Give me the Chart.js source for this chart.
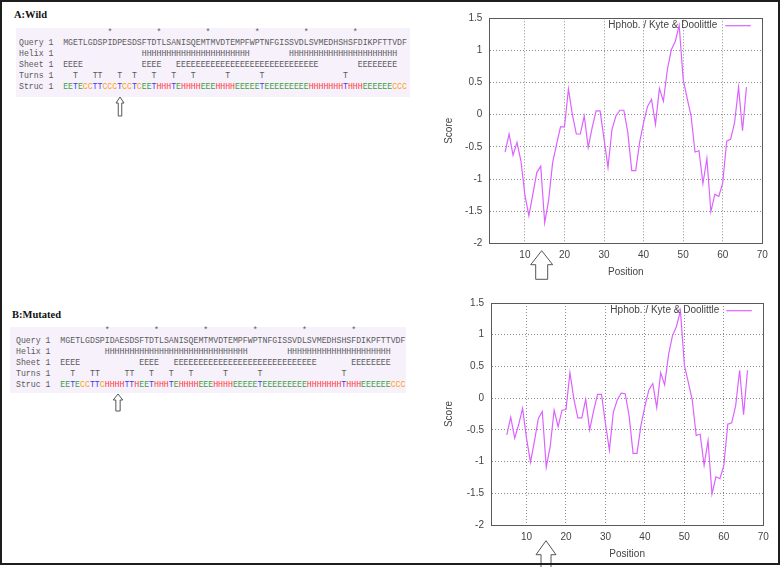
<!DOCTYPE html>
<html>
<head>
<meta charset="utf-8">
<title>Hydrophobicity: wild vs mutated</title>
<script src="https://cdn.jsdelivr.net/npm/chart.js@4.4.1/dist/chart.umd.min.js"></script>
<style>
  html, body { margin: 0; padding: 0; background: #fff; }
  #fig { position: relative; width: 782px; height: 567px; overflow: hidden; background: #fff; }
  #frame { position: absolute; left: 0; top: 0; width: 776px; height: 561px; border: 2px solid #1e1e1e; z-index: 5; pointer-events: none; }
  .panel-title { position: absolute; font: bold 10.5px "Liberation Serif", serif; color: #111; line-height: 12px; white-space: nowrap; }
  .seqbox { position: absolute; background: #f6f1fa; }
  .row { position: absolute; font-family: "Liberation Mono", monospace; font-size: 9px; line-height: 11px; color: #5a5a5a; white-space: pre; transform-origin: 0 50%; }
  .E { color: #3f9f3f; } .H { color: #ff3a3a; } .T { color: #3a3aff; } .C { color: #ffa31a; }
  canvas { position: absolute; }
  #arrows { position: absolute; left: 0; top: 0; z-index: 4; }
</style>
</head>
<body>
<div id="fig">
  <div class="panel-title" style="left:14px;top:9px">A:Wild</div>
  <div class="seqbox" style="left:16px;top:28px;width:394px;height:69px"></div>
  <div id="seqA"></div>
  <div class="panel-title" style="left:12px;top:309px">B:Mutated</div>
  <div class="seqbox" style="left:10px;top:327px;width:396px;height:66px"></div>
  <div id="seqB"></div>
  <canvas id="wildChart" width="350" height="290" style="left:430px;top:0"></canvas>
  <canvas id="mutChart" width="350" height="277" style="left:430px;top:290px"></canvas>
  <svg id="arrows" width="782" height="567"></svg>
  <div id="frame"></div>
</div>
<script>
// residue positions (window centres) and Kyte & Doolittle scores
const positions = [5, 6, 7, 8, 9, 10, 11, 12, 13, 14, 15, 16, 17, 18, 19, 20, 21, 22, 23, 24,
  25, 26, 27, 28, 29, 30, 31, 32, 33, 34, 35, 36, 37, 38, 39, 40, 41, 42, 43, 44, 45, 46,
  47, 48, 49, 50, 51, 52, 53, 54, 55, 56, 57, 58, 59, 60, 61, 62, 63, 64, 65, 66];
const wildScore = [-0.58, -0.30, -0.63, -0.43, -0.72, -1.25, -1.57, -1.24, -0.90, -0.80,
  -1.68, -1.33, -0.75, -0.46, -0.19, -0.19, 0.40, 0.00, -0.30, -0.30, -0.02, -0.51, -0.20,
  0.06, 0.06, -0.38, -0.82, -0.23, -0.02, 0.07, 0.07, -0.27, -0.87, -0.87, -0.43, -0.12,
  0.13, 0.24, -0.15, 0.41, 0.21, 0.70, 1.01, 1.14, 1.39, 0.55, 0.26, -0.02, -0.58, -0.56,
  -1.07, -0.68, -1.51, -1.24, -1.27, -1.06, -0.41, -0.38, -0.12, 0.43, -0.25, 0.43];
const mutatedScore = [-0.58, -0.30, -0.63, -0.42, -0.16, -0.63, -1.01, -0.68, -0.32, -0.21,
  -1.09, -0.76, -0.19, -0.45, -0.19, -0.18, 0.40, -0.01, -0.31, -0.31, -0.02, -0.50, -0.20,
  0.06, 0.06, -0.40, -0.82, -0.22, -0.03, 0.08, 0.07, -0.28, -0.87, -0.87, -0.43, -0.13,
  0.13, 0.23, -0.15, 0.40, 0.21, 0.69, 0.99, 1.13, 1.38, 0.52, 0.25, -0.03, -0.59, -0.57,
  -1.06, -0.67, -1.51, -1.24, -1.27, -1.06, -0.41, -0.39, -0.12, 0.44, -0.26, 0.44];
const xTicks = [10, 20, 30, 40, 50, 60, 70];
const yTicks = [-2, -1.5, -1, -0.5, 0, 0.5, 1, 1.5];
const seriesLabel = "Hphob. / Kyte & Doolittle";

// sequence panels
const wildQuery = "MGETLGDSPIDPESDSFTDTLSANISQEMTMVDTEMPFWPTNFGISSVDLSVMEDHSHSFDIKPFTTVDF";
const mutQuery  = "MGETLGDSPIDAESDSFTDTLSANISQEMTMVDTEMPFWPTNFGISSVDLSVMEDHSHSFDIKPFTTVDF";
const wildStruc = "EETECCTTCCCTCCTCEETHHHTEHHHHEEEHHHHEEEEETEEEEEEEEEHHHHHHHTHHHEEEEEECCC";
const mutStruc  = "EETECCTTCHHHHTTHEETHHHTEHHHHEEEHHHHEEEEETEEEEEEEEEHHHHHHHTHHHEEEEEECCC";
const rulerMarks = [9, 19, 29, 39, 49, 59];
const wildHelix = [[16, 37], [46, 67]];
const mutHelix  = [[9, 37], [46, 66]];
const wildSheet = [[0, 3], [16, 19], [23, 51], [60, 67]];
const mutSheet  = [[0, 3], [16, 19], [23, 51], [59, 66]];
const wildTurns = [2, 6, 7, 11, 14, 18, 22, 26, 33, 40, 57];
const mutTurns  = [2, 6, 7, 13, 14, 18, 22, 26, 33, 40, 57];

function spans(ranges, ch) {
  const s = Array(70).fill(" ");
  ranges.forEach(([a, b]) => { for (let i = a; i <= b; i++) s[i] = ch; });
  return s.join("").replace(/\s+$/, "");
}
function points(list, ch) {
  const s = Array(70).fill(" ");
  list.forEach(i => { s[i] = ch; });
  return s.join("").replace(/\s+$/, "");
}
function colourStruc(str) {
  return str.split("").map(c => `<span class="${c}">${c}</span>`).join("");
}

function buildPanel(hostId, left, charW, firstCentre, query, helix, sheet, turns, struc) {
  const host = document.getElementById(hostId);
  const rows = [
    { label: "         ", text: points(rulerMarks, "*"), centre: firstCentre },
    { label: "Query 1  ", text: query, centre: firstCentre + 10 },
    { label: "Helix 1  ", text: spans(helix, "H"), centre: firstCentre + 21 },
    { label: "Sheet 1  ", text: spans(sheet, "E"), centre: firstCentre + 32 },
    { label: "Turns 1  ", text: points(turns, "T"), centre: firstCentre + 43 },
    { label: "Struc 1  ", text: struc, centre: firstCentre + 54, html: colourStruc(struc) }
  ];
  rows.forEach(r => {
    const el = document.createElement("div");
    el.className = "row";
    el.style.left = left + "px";
    el.style.top = (r.centre - 5.8) + "px";
    el.innerHTML = r.label + (r.html || r.text.replace(/&/g, "&amp;"));
    host.appendChild(el);
    const want = (r.label.length + r.text.length) * charW;
    const got = el.getBoundingClientRect().width;
    if (got > 0) el.style.transform = `scaleX(${want / got})`;
  });
}
buildPanel("seqA", 19, 4.91, 33.5, wildQuery, wildHelix, wildSheet, wildTurns, wildStruc);
buildPanel("seqB", 15.6, 4.93, 331.5, mutQuery, mutHelix, mutSheet, mutTurns, mutStruc);

// hollow arrows marking the mutated residue
function upArrow(cx, tip, bottom, headW, headH, shaftW) {
  const hw = headW / 2, sw = shaftW / 2, hb = tip + headH;
  return `M${cx},${tip} L${cx + hw},${hb} L${cx + sw},${hb} L${cx + sw},${bottom} ` +
         `L${cx - sw},${bottom} L${cx - sw},${hb} L${cx - hw},${hb} Z`;
}
const svg = document.getElementById("arrows");
[
  [120, 97, 116, 8, 6, 3.5],
  [118, 394, 411, 9.5, 6, 4.3],
  [541.7, 250.7, 279.3, 22, 14, 12],
  [546, 540.7, 572, 20, 14, 10]
].forEach(a => {
  const p = document.createElementNS("http://www.w3.org/2000/svg", "path");
  p.setAttribute("d", upArrow(...a));
  p.setAttribute("fill", "#fff");
  p.setAttribute("stroke", "#555");
  p.setAttribute("stroke-width", "1");
  svg.appendChild(p);
});

// gnuplot-like frame and key
const gnuplotFrame = {
  id: "gnuplotFrame",
  afterDraw(chart, args, opts) {
    const { ctx, chartArea: a } = chart;
    ctx.save();
    ctx.strokeStyle = "#5a5a5a";
    ctx.lineWidth = 1;
    ctx.strokeRect(Math.round(a.left) + 0.5, Math.round(a.top) + 0.5,
      Math.round(a.right - a.left), Math.round(a.bottom - a.top));
    const ds = chart.data.datasets[0];
    const y = a.top + opts.keyDy;
    ctx.font = '10px "Liberation Sans"';
    ctx.fillStyle = "#444";
    ctx.textAlign = "right";
    ctx.textBaseline = "middle";
    ctx.fillText(ds.label, a.right - opts.textGap, y);
    ctx.strokeStyle = ds.borderColor;
    ctx.lineWidth = 1.2;
    ctx.beginPath();
    ctx.moveTo(a.right - 37, y);
    ctx.lineTo(a.right - 11.5, y);
    ctx.stroke();
    ctx.restore();
  }
};

const axisFont = { family: '"Liberation Sans", sans-serif', size: 10 };
const gridOpts = { display: true, drawOnChartArea: true, color: "#8c8c8c", lineWidth: 1, drawTicks: false };

function hydroChart(canvasId, scores, box) {
  return new Chart(document.getElementById(canvasId), {
    type: "line",
    data: {
      datasets: [{
        label: seriesLabel,
        data: positions.map((p, i) => ({ x: p, y: scores[i] })),
        borderColor: "#dc62ff",
        borderWidth: 1.2,
        pointRadius: 0,
        tension: 0,
        fill: false
      }]
    },
    options: {
      responsive: false,
      animation: false,
      events: [],
      layout: { padding: { top: box.top, right: box.right, left: 0, bottom: 0 } },
      plugins: {
        legend: { display: false },
        tooltip: { enabled: false },
        gnuplotFrame: { keyDy: box.keyDy, textGap: box.textGap }
      },
      scales: {
        x: {
          type: "linear", min: 1, max: 70,
          afterBuildTicks: s => { s.ticks = xTicks.map(v => ({ value: v })); },
          afterFit: s => { s.height = box.xH; },
          grid: gridOpts,
          border: { display: true, color: "#5a5a5a", width: 1, dash: [1, 2] },
          ticks: { autoSkip: false, maxRotation: 0, padding: 6, color: "#444", font: axisFont, callback: v => String(v) },
          title: { display: true, text: "Position", color: "#444", font: axisFont, padding: { top: 0, bottom: box.xTitlePad } }
        },
        y: {
          type: "linear", min: -2, max: 1.5,
          afterBuildTicks: s => { s.ticks = yTicks.map(v => ({ value: v })); },
          afterFit: s => { s.width = box.yW; },
          grid: gridOpts,
          border: { display: true, color: "#5a5a5a", width: 1, dash: [1, 2] },
          ticks: { padding: 7, color: "#444", font: axisFont, callback: v => String(v) },
          title: { display: true, text: "Score", color: "#444", font: axisFont, padding: { top: box.yTitlePad, bottom: 0 } }
        }
      }
    },
    plugins: [gnuplotFrame]
  });
}

hydroChart("wildChart", wildScore, { top: 18.3, right: 17.7, yW: 59.3, xH: 46.7, xTitlePad: 11.3, yTitlePad: 13, keyDy: 7.4, textGap: 45 });
hydroChart("mutChart", mutatedScore, { top: 10, right: 16.7, yW: 61, xH: 42, xTitlePad: 7, yTitlePad: 13.3, keyDy: 7.7, textGap: 44 });
</script>
</body>
</html>
